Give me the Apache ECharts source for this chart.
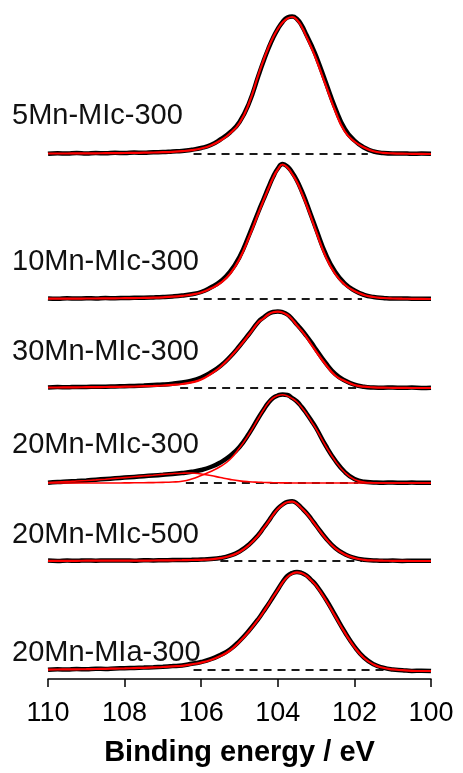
<!DOCTYPE html>
<html>
<head>
<meta charset="utf-8">
<script src="https://cdn.jsdelivr.net/npm/echarts@6/dist/echarts.min.js"></script>
<style>
  html, body { margin: 0; padding: 0; background: #fff; }
  #chart { width: 463px; height: 773px; }
</style>
</head>
<body>
<div id="chart"></div>
<script>
// Binding energy grid (eV), shared by every spectrum; finer across the peak region
const energies = [110, 109.75, 109.5, 109.25, 109, 108.75, 108.5, 108.25, 108, 107.75,
  107.5, 107.25, 107, 106.75, 106.5, 106.25, 106, 105.75, 105.5, 105.25,
  105, 104.75, 104.5,
  104.375, 104.25, 104.125, 104, 103.875, 103.75, 103.625, 103.5, 103.375, 103.25, 103.125, 103,
  102.75, 102.5, 102.25, 102, 101.75, 101.5, 101.25, 101, 100.75, 100.5, 100.25, 100];

const sampleNames = ['5Mn-MIc-300', '10Mn-MIc-300', '30Mn-MIc-300', '20Mn-MIc-300', '20Mn-MIc-500', '20Mn-MIa-300'];

// vertical stacking offset of each spectrum (a.u.)
const offsets = [525, 380, 291, 196, 118, 9];

// background (dashed) energy span of each spectrum, eV
const backgroundSpans = [[106.2, 101.65], [106.3, 101.8], [106.55, 101.95], [106.4, 101.9], [105.5, 101.8], [106.2, 101.1]];

// measured intensities above background (a.u.)
const measured5MnMIc300 = [0.3,0.8,0.4,0.9,0.5,1.0,0.7,1.2,1.0,1.4,1.3,1.8,1.9,2.5,3.0,4.2,6.0,9.0,14.5,21.5,32,51,79,
  92.5,105,116,125,132,136.5,137.5,135,128.5,119,109,98,
  72,46,25,13.5,6.5,2.5,1.0,0.5,0.6,0.2,0.4,0.2];
const measured10MnMIc300 = [0.5,0.2,0.7,0.4,0.8,0.5,0.9,0.8,1.0,1.2,1.3,1.6,2.0,2.6,3.5,4.8,7,11.5,17.5,27,42,64,88,
  99.5,111,122,130.5,135,132.5,126.5,118.5,108,96,83,70,
  45,27,15.5,8.5,4.2,2,1,0.4,0.6,0.3,0.2,0.3];
const measured30MnMIc300 = [0.6,0.9,0.7,1.1,1.0,1.3,1.3,1.6,1.8,2.1,2.5,3.0,3.5,4.3,5.5,7.2,10.5,15.5,22,31,42,54,66.5,
  70.5,74,76,76.5,75.8,73.5,69,63.5,58,52,45.5,38.5,
  25,14,7.5,3.3,1.2,0.5,0.3,0.5,0.2,0.4,0.1,0.3];
const measured20MnMIc300 = [0.3,1.0,1.5,2.0,2.6,3.3,4.0,4.7,5.4,6.1,6.8,7.5,8.2,9.0,10.0,11.2,13.0,16.0,20.5,27,36,49.5,65.5,
  73,80,85,87.5,88.5,88,85,81.5,76,69.5,62.5,55,
  37.5,22.5,11,4,1.2,0.6,0.3,0.5,0.2,0.4,0.2,0.3];
const measured20MnMIc500 = [0.4,0.1,0.5,0.2,0.6,0.3,0.5,0.4,0.6,0.3,0.7,0.6,0.8,0.9,1.0,1.2,1.5,2.0,3.0,5.3,9.5,16.5,26.5,
  33,39.5,46.5,52.5,56.5,59.2,59.8,57.5,53,48,42,35.5,
  23,13,6.8,3.2,1.3,0.6,0.2,0.4,0.1,0.3,0.2,0.3];
const measured20MnMIa300 = [0.3,0.7,0.5,0.9,0.8,1.2,1.1,1.6,1.7,2.1,2.4,2.8,3.3,3.9,4.6,6.2,8.0,10.8,15,20.5,29,39.5,51.5,
  58.5,65.5,73,80.5,88,94,97,98,97,94.5,90,85,
  71,54.5,38,23.5,12.5,5.8,2.3,0.5,-0.2,-0.9,-0.8,-1.1];

// fitted peaks (a.u.)
const fit5MnMIc300 = [0.5,0.5,0.5,0.6,0.6,0.7,0.8,0.9,1.0,1.1,1.3,1.5,1.8,2.2,2.8,3.8,5.5,8.5,13.5,20.5,31,51,80,
  93.5,106,116.5,125,131.5,135.5,137,134,127,117,106.5,95,
  69,43,22.5,12.5,6.5,2.8,1.2,0.6,0.3,0.2,0.1,0];
const fit10MnMIc300 = [0.3,0.3,0.4,0.4,0.5,0.5,0.6,0.7,0.8,0.9,1.1,1.3,1.7,2.3,3.2,4.4,6.5,10.5,16,25,40,62,86.5,
  98.5,110,121,129.5,134.5,131.5,125,117,106,94,81,67.5,
  42.5,25,14.3,8,4,2,1,0.5,0.3,0.2,0.1,0];
const fit30MnMIc300 = [0.5,0.5,0.6,0.7,0.8,0.9,1.0,1.1,1.3,1.5,1.8,2.1,2.5,3.1,4.0,5.6,8.5,14,21,30.5,41.5,53.5,66,
  69.5,73.5,75.8,76.3,75.5,73,68.5,62.5,57,50.7,43.5,36.5,
  23.5,12.5,7,3,1.3,0.6,0.3,0.2,0.1,0,0,0];
const fit20MnMIc300Main = [0,0,0,0,0,0,0,0,0.1,0.2,0.3,0.4,0.6,1.0,1.8,4,7.5,11.5,16.5,23.5,35,49,65,
  73,80,85,87.5,88.3,87,84.5,81,75.5,69,61.5,54,
  37,22,10.5,3.5,1,0.3,0,0,0,0,0,0];
const fit20MnMIc300High = [0.5,1.0,1.4,2.0,2.5,3.1,3.8,4.6,5.4,6.2,7.0,7.8,8.6,9.3,9.8,10,9,7.5,5.5,3.6,2.1,1.2,0.7,
  0.55,0.4,0.3,0.2,0.15,0.1,0.05,0,0,0,0,0,
  0,0,0,0,0,0,0,0,0,0,0,0];
const fit20MnMIc500 = [0.2,0.2,0.2,0.2,0.3,0.3,0.3,0.3,0.4,0.4,0.4,0.5,0.6,0.7,0.8,1.0,1.2,1.7,2.8,5,9,16,26,
  32.5,39,46,52,56,58.7,59.3,57,52.5,47.5,41.5,35,
  22.5,12.7,6.6,3,1.2,0.5,0.3,0.2,0.1,0,0,0];
const fit20MnMIa300 = [0.4,0.5,0.6,0.7,0.8,1.0,1.2,1.4,1.6,1.9,2.2,2.6,3.0,3.6,4.2,5.7,7.4,10,14,19.5,28.2,38.8,51.2,
  58,65.4,73,80.1,87.5,93,96.3,97.7,96.7,94,89.5,84.3,
  70,53.6,37.3,22.9,12,5.5,2.2,0.6,-0.2,-0.8,-1,-1];

const measuredSets = [measured5MnMIc300, measured10MnMIc300, measured30MnMIc300, measured20MnMIc300, measured20MnMIc500, measured20MnMIa300];
const fitSets = [[fit5MnMIc300], [fit10MnMIc300], [fit30MnMIc300], [fit20MnMIc300Main, fit20MnMIc300High], [fit20MnMIc500], [fit20MnMIa300]];

const FONT = '"Liberation Sans", Arial, Helvetica, sans-serif';
const labelCentres = [116, 262, 352, 445, 535, 653];

const series = [];
sampleNames.forEach((name, i) => {
  const off = offsets[i];
  const shift = arr => energies.map((e, k) => [e, arr[k] + off]);
  series.push({
    type: 'line', name: name + ' background', silent: true, symbol: 'none', z: 1,
    data: [[backgroundSpans[i][0], off], [backgroundSpans[i][1], off]],
    lineStyle: { color: '#1a1a1a', width: 2, type: [8, 6] }
  });
  series.push({
    type: 'line', name: name, silent: true, symbol: 'none', z: 2,
    smooth: 0.5,
    data: shift(measuredSets[i]),
    lineStyle: { color: '#000', width: 4.5 }
  });
  fitSets[i].forEach((f, j) => {
    series.push({
      type: 'line', name: name + ' fit ' + j, silent: true, symbol: 'none', z: 3,
      smooth: 0.5,
      data: shift(f),
      lineStyle: { color: '#ff0000', width: fitSets[i].length > 1 ? 1.6 : 2.2 }
    });
  });
});

const chart = echarts.init(document.getElementById('chart'), null, { renderer: 'canvas' });
chart.setOption({
  animation: false,
  backgroundColor: '#fff',
  grid: { left: 48, right: 32, top: 0, bottom: 94, containLabel: false, outerBoundsMode: 'none' },
  xAxis: {
    type: 'value', min: 100, max: 110, interval: 2, inverse: true,
    axisLine: { lineStyle: { color: '#000', width: 1.5 } },
    axisTick: { length: 8, lineStyle: { color: '#000', width: 1.5 } },
    axisLabel: { fontSize: 27, color: '#000', margin: 21, fontFamily: FONT, showMinLabel: true, showMaxLabel: true },
    splitLine: { show: false },
    name: 'Binding energy / eV', nameLocation: 'middle', nameGap: 59,
    nameTextStyle: { fontSize: 29, fontWeight: 'bold', color: '#000', fontFamily: FONT }
  },
  yAxis: { type: 'value', min: 0, max: 679, show: false },
  graphic: sampleNames.map((n, i) => ({
    type: 'text', x: 12, y: labelCentres[i], silent: true,
    style: { text: n, font: '29px ' + FONT, fill: '#111', verticalAlign: 'middle', align: 'left' }
  })),
  series: series
});
</script>
</body>
</html>
